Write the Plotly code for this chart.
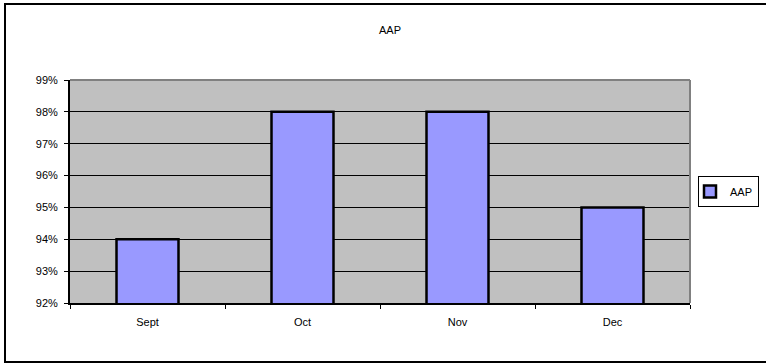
import plotly.graph_objects as go

# Monthly AAP scores (percent)
months = ["Sept", "Oct", "Nov", "Dec"]
aap_values = [94, 98, 98, 95]
y_ticks = [92, 93, 94, 95, 96, 97, 98, 99]
y_tick_labels = [f"{v}%" for v in y_ticks]

FONT = "Arial, Liberation Sans, sans-serif"
FS = 11

# plot area in pixels
W, H = 766, 364
L, R, T, B = 70, 690, 80, 303

fig = go.Figure()
fig.add_trace(go.Bar(
    x=months,
    y=aap_values,
    name="AAP",
    marker=dict(color="#9999FF", line=dict(color="black", width=2.5)),
    width=0.4,
))

def px_to_paper_x(px):
    return (px - L) / (R - L)

def px_to_paper_y(py):
    return (B - py) / (B - T)

shapes = [
    # outer chart frame (right side runs off the canvas)
    dict(type="rect", xref="paper", yref="paper",
         x0=px_to_paper_x(5), x1=px_to_paper_x(775),
         y0=px_to_paper_y(362), y1=px_to_paper_y(4),
         line=dict(color="black", width=2), fillcolor="rgba(0,0,0,0)", layer="below"),
    # plot-area top and right edges
    dict(type="line", xref="paper", yref="paper", x0=0, x1=1, y0=1, y1=1,
         line=dict(color="#808080", width=2)),
    dict(type="line", xref="paper", yref="paper", x0=1, x1=1, y0=0, y1=1,
         line=dict(color="#808080", width=2)),
]

fig.update_layout(
    width=W, height=H,
    margin=dict(l=L, r=W - R, t=T, b=H - B, pad=0, autoexpand=False),
    paper_bgcolor="white",
    plot_bgcolor="#C0C0C0",
    font=dict(family=FONT, size=FS, color="black"),
    title=dict(text="AAP", x=390 / W, xanchor="center", xref="container",
               y=1 - 30 / H, yanchor="middle", yref="container",
               font=dict(family=FONT, size=FS, color="black")),
    showlegend=True,
    legend=dict(x=px_to_paper_x(759), xanchor="right", y=0.5, yanchor="middle",
                bordercolor="black", borderwidth=1, bgcolor="white",
                font=dict(family=FONT, size=FS, color="black"),
                itemwidth=30, indentation=-9, tracegroupgap=0),
    bargap=0.6,
    shapes=shapes,
)

fig.update_xaxes(
    type="category",
    showline=True, linecolor="black", linewidth=2,
    ticks="outside", tickson="boundaries", ticklen=4, tickcolor="black", tickwidth=1,
    ticklabelstandoff=8,
    showgrid=False, zeroline=False,
    tickfont=dict(family=FONT, size=FS, color="black"),
)
fig.update_yaxes(
    range=[92, 99],
    tickmode="array",
    tickvals=y_ticks,
    ticktext=y_tick_labels,
    showline=True, linecolor="black", linewidth=2,
    ticks="outside", ticklen=4, tickcolor="black", tickwidth=1,
    ticklabelstandoff=4,
    showgrid=True, gridcolor="black", gridwidth=1,
    zeroline=False,
    tickfont=dict(family=FONT, size=FS, color="black"),
)

fig.write_html("out.html")
